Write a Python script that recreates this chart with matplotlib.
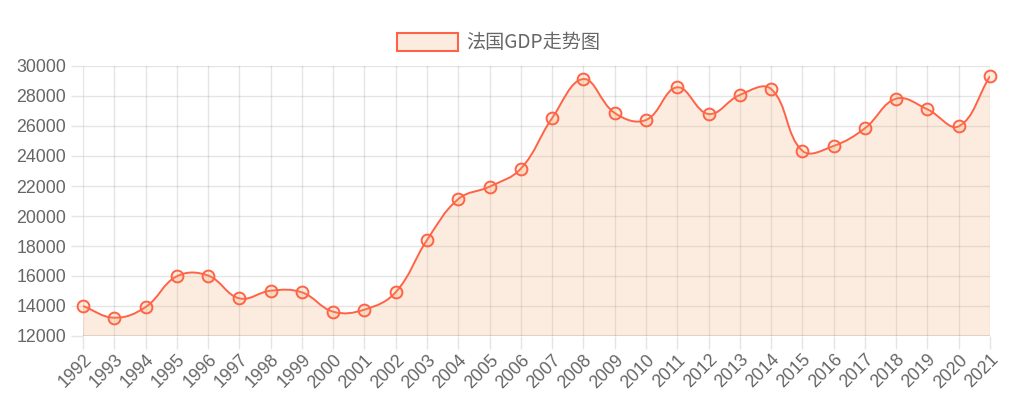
import matplotlib
matplotlib.use("Agg")
import matplotlib.pyplot as plt
from matplotlib.path import Path
from matplotlib.patches import PathPatch, Rectangle
import numpy as np

years = [str(y) for y in range(1992, 2022)]
gdp = [14000, 13220, 13930, 15980, 16030, 14510, 15020, 14910, 13620, 13760,
       14930, 18400, 21130, 21960, 23160, 26530, 29130, 26870, 26400, 28580,
       26800, 28070, 28470, 24350, 24670, 25850, 27820, 27110, 25980, 29330]
yticks = list(range(12000, 30001, 2000))
series_label = "法国GDP走势图"

LINE = "#ff6347"
FILL = (244/255, 164/255, 96/255, 0.2)
TICKC = "#e5e5e5"
TXT = "#666666"
FONT = ["Liberation Sans", "Noto Sans CJK SC", "DejaVu Sans"]
plt.rcParams['font.family'] = FONT

W, H = 1013, 417
fig = plt.figure(figsize=(W/100, H/100), dpi=100)
left, right, top, bottom = 83, 990, 66, 336
ax = fig.add_axes([left/W, 1-bottom/H, (right-left)/W, (bottom-top)/H])
x = np.arange(len(years))
ax.set_xlim(0, len(years)-1)
ax.set_ylim(yticks[0], yticks[-1])

for s in ax.spines.values():
    s.set_visible(False)
ax.set_xticks(x)
ax.set_xticklabels(years, rotation=45, ha='right', va='top', rotation_mode='anchor')
ax.set_yticks(yticks)
ax.tick_params(axis='both', color=TICKC, labelcolor=TXT, labelsize=12.8, length=9, width=1)
ax.tick_params(axis='x', pad=2)
ax.tick_params(axis='y', pad=3)
ax.grid(True, color='black', alpha=0.1, linewidth=1)
ax.set_axisbelow(True)
ax.axhline(yticks[0], color='black', alpha=0.12, lw=2, zorder=1)

# Chart.js style bezier (tension 0.4) computed in pixel space
pts = ax.transData.transform(np.column_stack([x, gdp]))
t = 0.4
n = len(pts)
cp_prev = np.zeros_like(pts)
cp_next = np.zeros_like(pts)
for i in range(n):
    p0 = pts[i-1] if i > 0 else pts[i]
    p1 = pts[i]
    p2 = pts[i+1] if i < n-1 else pts[i]
    d01 = np.hypot(*(p1-p0))
    d12 = np.hypot(*(p2-p1))
    tot = d01 + d12
    s01 = d01/tot if tot else 0
    s12 = d12/tot if tot else 0
    cp_prev[i] = p1 - t*s01*(p2-p0)
    cp_next[i] = p1 + t*s12*(p2-p0)
ylo, yhi = ax.transData.transform([[0, yticks[0]], [0, yticks[-1]]])[:, 1]
for arr in (cp_prev, cp_next):
    arr[:, 1] = np.clip(arr[:, 1], min(ylo, yhi), max(ylo, yhi))

inv = ax.transData.inverted()
verts = [pts[0]]
codes = [Path.MOVETO]
for i in range(n-1):
    verts += [cp_next[i], cp_prev[i+1], pts[i+1]]
    codes += [Path.CURVE4]*3
verts_d = inv.transform(np.array(verts))
line_path = Path(verts_d, codes)
ax.add_patch(PathPatch(line_path, fill=False, edgecolor=LINE, lw=1.4, zorder=3))

fverts = list(verts_d) + [[x[-1], yticks[0]], [x[0], yticks[0]], verts_d[0]]
fcodes = codes + [Path.LINETO, Path.LINETO, Path.CLOSEPOLY]
ax.add_patch(PathPatch(Path(fverts, fcodes), facecolor=FILL, edgecolor='none', zorder=2))

ax.plot(x, gdp, linestyle='none', marker='o', markersize=8.5, markeredgewidth=1.4,
        markeredgecolor=LINE, markerfacecolor=FILL, zorder=4, clip_on=False)

# legend
fig.patches.append(Rectangle((397/W, 1-51/H), 61/W, 18/H, transform=fig.transFigure,
                             facecolor=FILL, edgecolor=LINE, lw=1.5))
fig.text(466/W, 1-42/H, series_label, color=TXT, fontsize=13.8, va='center', ha='left',
         family=["Noto Sans CJK SC", "Liberation Sans"])

fig.savefig("out.png", dpi=100)
